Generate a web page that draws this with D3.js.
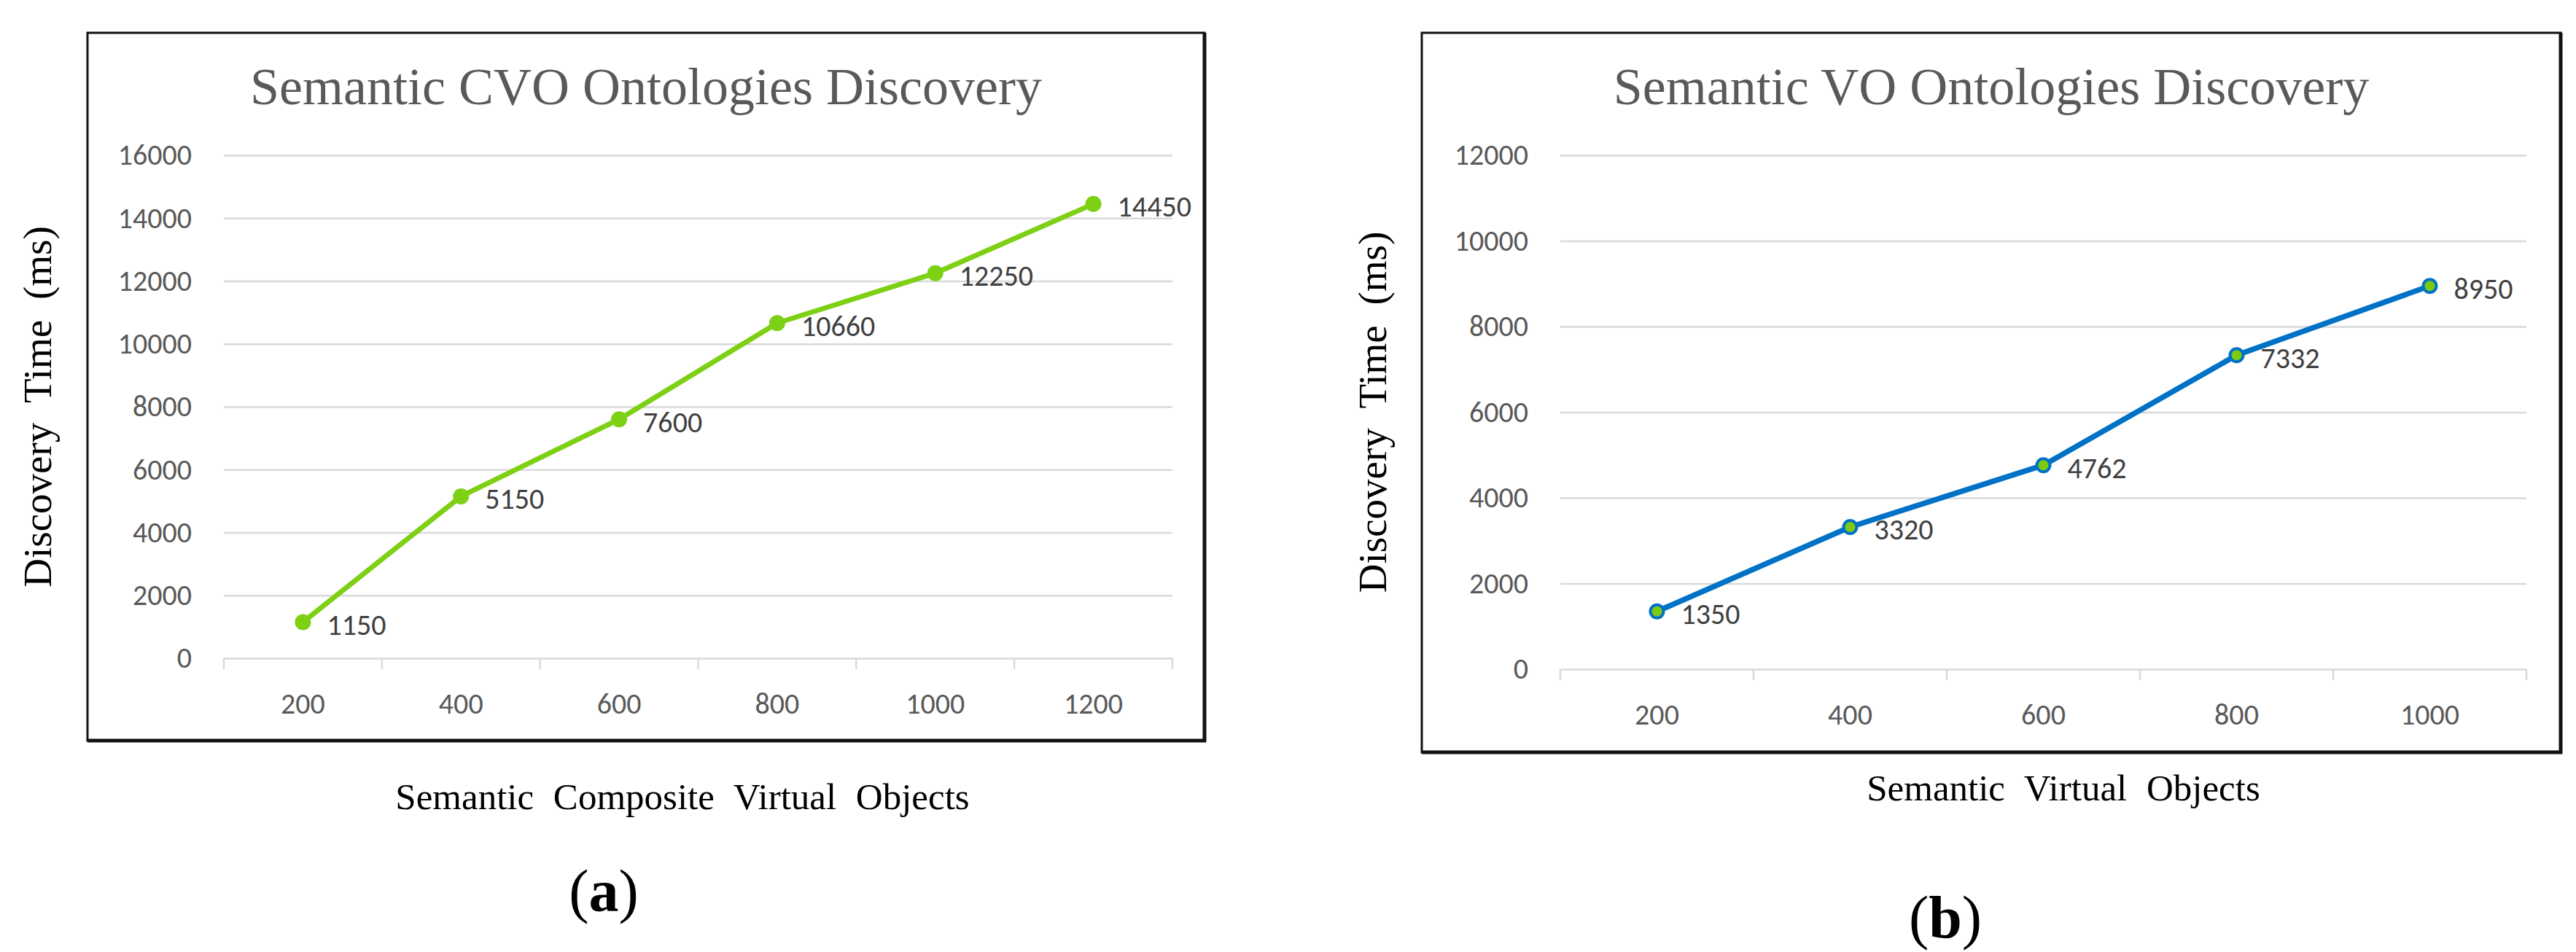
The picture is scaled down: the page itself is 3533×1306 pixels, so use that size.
<!DOCTYPE html>
<html>
<head>
<meta charset="utf-8">
<script src="https://cdn.jsdelivr.net/npm/d3@7"></script>
<style>
  html, body { margin: 0; padding: 0; background: #ffffff; }
  svg { display: block; }
</style>
</head>
<body>
<div id="chart"></div>
<script>
// ── Data ──
const cvoCategories = ["200", "400", "600", "800", "1000", "1200"];
const cvoTimes      = [1150, 5150, 7600, 10660, 12250, 14450];
const cvoTicks      = [0, 2000, 4000, 6000, 8000, 10000, 12000, 14000, 16000];

const voCategories  = ["200", "400", "600", "800", "1000"];
const voTimes       = [1350, 3320, 4762, 7332, 8950];
const voTicks       = [0, 2000, 4000, 6000, 8000, 10000, 12000];

const W = 3533, H = 1306;
const SERIF = "'Liberation Serif', 'Times New Roman', serif";
const SANS  = "Calibri, Carlito, Lato, 'Noto Sans', sans-serif";

const svg = d3.select("#chart").append("svg")
  .attr("width", W).attr("height", H)
  .attr("viewBox", `0 0 ${W} ${H}`);

svg.append("rect").attr("width", W).attr("height", H).attr("fill", "#fff");

// ─────────────────────────────────────────────────────────
// One Excel-style line chart panel
// ─────────────────────────────────────────────────────────
function drawPanel(cfg) {
  const g = svg.append("g");
  const [fx0, fy0, fx1, fy1] = cfg.frame;

  // frame (right / bottom edges a bit heavier, as in the scan)
  g.append("rect")
    .attr("x", fx0).attr("y", fy0)
    .attr("width", fx1 - fx0)
    .attr("height", fy1 - fy0)
    .attr("fill", "none")
    .attr("stroke", "#111")
    .attr("stroke-width", 3);
  g.append("path")
    .attr("d", `M${fx1},${fy0} L${fx1},${fy1} L${fx0},${fy1}`)
    .attr("fill", "none")
    .attr("stroke", "#111")
    .attr("stroke-width", 5);

  const x = d3.scaleBand()
    .domain(cfg.categories)
    .range([cfg.plot.left, cfg.plot.right])
    .paddingInner(0).paddingOuter(0);

  const y = d3.scaleLinear()
    .domain([0, d3.max(cfg.ticks)])
    .range([cfg.plot.bottom, cfg.plot.top]);

  // title
  g.append("text")
    .attr("x", (fx0 + fx1) / 2)
    .attr("y", 143)
    .attr("text-anchor", "middle")
    .style("font-family", SERIF)
    .style("font-size", "72px")
    .style("fill", "#595959")
    .text(cfg.title);

  // y axis: gridlines + labels
  const yAxis = d3.axisLeft(y)
    .tickValues(cfg.ticks)
    .tickSize(-(cfg.plot.right - cfg.plot.left))
    .tickPadding(44)
    .tickFormat(d3.format("d"));

  const yG = g.append("g")
    .attr("transform", `translate(${cfg.plot.left},0)`)
    .call(yAxis);
  yG.select(".domain").remove();
  yG.selectAll(".tick line")
    .attr("stroke", "#d9d9d9")
    .attr("stroke-width", 2.5);
  yG.selectAll(".tick text")
    .style("font-family", SANS)
    .style("font-size", "40px")
    .style("fill", "#595959");

  // x axis: labels at band centres, ticks on band edges
  const xAxis = d3.axisBottom(x).tickSize(0).tickPadding(48);
  const xG = g.append("g")
    .attr("transform", `translate(0,${cfg.plot.bottom})`)
    .call(xAxis);
  xG.select(".domain").remove();
  xG.selectAll(".tick text")
    .style("font-family", SANS)
    .style("font-size", "40px")
    .style("fill", "#595959");

  const edges = cfg.categories.map(c => x(c)).concat([cfg.plot.right]);
  g.selectAll(null)
    .data(edges)
    .join("line")
    .attr("x1", d => d).attr("x2", d => d)
    .attr("y1", cfg.plot.bottom).attr("y2", cfg.plot.bottom + 15)
    .attr("stroke", "#d9d9d9")
    .attr("stroke-width", 2.5);

  // series line
  const pts = cfg.categories.map((c, i) => ({ cat: c, v: cfg.values[i] }));
  const cx = d => x(d.cat) + x.bandwidth() / 2;

  g.append("path")
    .datum(pts)
    .attr("fill", "none")
    .attr("stroke", cfg.lineColor)
    .attr("stroke-width", cfg.lineWidth)
    .attr("stroke-linejoin", "round")
    .attr("stroke-linecap", "round")
    .attr("d", d3.line().x(cx).y(d => y(d.v)));

  g.selectAll(null)
    .data(pts)
    .join("circle")
    .attr("cx", cx)
    .attr("cy", d => y(d.v))
    .attr("r", cfg.markerR)
    .attr("fill", cfg.markerFill)
    .attr("stroke", cfg.markerStroke)
    .attr("stroke-width", cfg.markerStrokeWidth);

  // data labels, to the right of each point
  g.selectAll(null)
    .data(pts)
    .join("text")
    .attr("x", d => cx(d) + 33)
    .attr("y", d => y(d.v) + 4)
    .attr("dominant-baseline", "central")
    .style("font-family", SANS)
    .style("font-size", "40px")
    .style("fill", "#404040")
    .text(d => d.v);

  // axis titles
  g.append("text")
    .attr("transform", `translate(${cfg.yTitleX},${(cfg.plot.top + cfg.plot.bottom) / 2}) rotate(-90)`)
    .attr("text-anchor", "middle")
    .attr("dominant-baseline", "central")
    .style("font-family", SERIF)
    .style("font-size", "55px")
    .style("word-spacing", "14px")
    .style("fill", "#000")
    .text("Discovery Time (ms)");

  g.append("text")
    .attr("x", cfg.xTitleX)
    .attr("y", cfg.xTitleY)
    .attr("text-anchor", "middle")
    .style("font-family", SERIF)
    .style("font-size", "51px")
    .style("word-spacing", "14px")
    .style("fill", "#000")
    .text(cfg.xTitle);

  // sub-figure tag
  const tag = g.append("text")
    .attr("x", cfg.tagX)
    .attr("y", cfg.tagY)
    .attr("text-anchor", "middle")
    .style("font-family", SERIF)
    .style("font-size", "82px")
    .style("fill", "#000");
  tag.append("tspan").text("(");
  tag.append("tspan").style("font-weight", "bold").text(cfg.tag);
  tag.append("tspan").text(")");
}

drawPanel({
  title: "Semantic CVO Ontologies Discovery",
  xTitle: "Semantic Composite Virtual Objects",
  categories: cvoCategories,
  values: cvoTimes,
  ticks: cvoTicks,
  frame: [120, 45, 1652, 1016],
  plot: { left: 307, right: 1608, top: 213, bottom: 903 },
  lineColor: "#7dd014",
  lineWidth: 7,
  markerR: 11,
  markerFill: "#7dd014",
  markerStroke: "#7dd014",
  markerStrokeWidth: 0,
  yTitleX: 51,
  xTitleX: 936, xTitleY: 1110,
  tag: "a", tagX: 828, tagY: 1250
});

drawPanel({
  title: "Semantic VO Ontologies Discovery",
  xTitle: "Semantic Virtual Objects",
  categories: voCategories,
  values: voTimes,
  ticks: voTicks,
  frame: [1950, 45, 3512, 1032],
  plot: { left: 2140, right: 3465, top: 213, bottom: 918 },
  lineColor: "#0072c6",
  lineWidth: 7.5,
  markerR: 9,
  markerFill: "#7dcb10",
  markerStroke: "#0072c6",
  markerStrokeWidth: 4,
  yTitleX: 1882,
  xTitleX: 2830, xTitleY: 1098,
  tag: "b", tagX: 2668, tagY: 1286
});
</script>
</body>
</html>
